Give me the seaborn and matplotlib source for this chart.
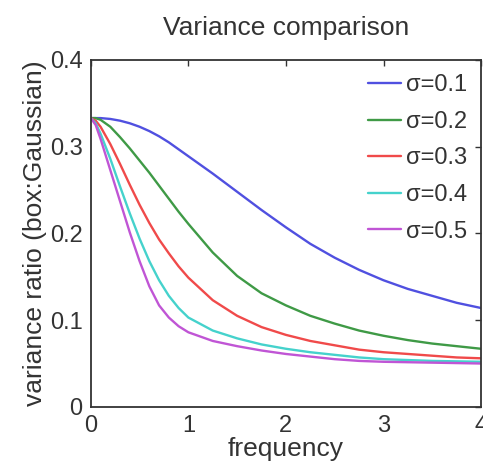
import pandas as pd
import matplotlib.pyplot as plt
import seaborn as sns
import numpy as np

# values
freq = [0.0, 0.05, 0.1, 0.2, 0.3, 0.4, 0.5, 0.6, 0.7, 0.8, 0.9, 1.0,
        1.25, 1.5, 1.75, 2.0, 2.25, 2.5, 2.75, 3.0, 3.25, 3.5, 3.75, 4.0]

ratio_s01 = [0.333, 0.333, 0.333, 0.332, 0.330, 0.327, 0.323, 0.318, 0.312, 0.305, 0.297, 0.289,
             0.269, 0.248, 0.227, 0.207, 0.188, 0.172, 0.158, 0.146, 0.136, 0.128, 0.120, 0.114]
ratio_s02 = [0.333, 0.333, 0.331, 0.323, 0.311, 0.298, 0.284, 0.270, 0.255, 0.240, 0.225, 0.211,
             0.178, 0.151, 0.131, 0.117, 0.105, 0.096, 0.088, 0.082, 0.077, 0.073, 0.070, 0.067]
ratio_s03 = [0.333, 0.330, 0.323, 0.303, 0.280, 0.256, 0.233, 0.212, 0.193, 0.177, 0.162, 0.149,
             0.123, 0.105, 0.092, 0.083, 0.076, 0.071, 0.066, 0.063, 0.061, 0.059, 0.057, 0.056]
ratio_s04 = [0.333, 0.327, 0.315, 0.286, 0.254, 0.223, 0.194, 0.168, 0.146, 0.128, 0.114, 0.103,
             0.088, 0.079, 0.072, 0.067, 0.063, 0.060, 0.057, 0.055, 0.054, 0.053, 0.0525, 0.052]
ratio_s05 = [0.333, 0.325, 0.309, 0.273, 0.237, 0.201, 0.168, 0.139, 0.117, 0.103, 0.093, 0.086,
             0.076, 0.070, 0.065, 0.061, 0.058, 0.055, 0.053, 0.052, 0.0515, 0.051, 0.0505, 0.050]

labels = ["σ=0.1", "σ=0.2", "σ=0.3", "σ=0.4", "σ=0.5"]
colors = ["#5050e0", "#3f9a46", "#f04a4a", "#45d2cc", "#c055d5"]

series = [ratio_s01, ratio_s02, ratio_s03, ratio_s04, ratio_s05]
frames = []
for lab, vals in zip(labels, series):
    frames.append(pd.DataFrame({"frequency": freq, "ratio": vals, "sigma": lab}))
df = pd.concat(frames, ignore_index=True)

sns.set_theme(style="white")
plt.rcParams['font.family'] = ['Liberation Sans', 'DejaVu Sans']

fig = plt.figure(figsize=(4.83, 4.65), dpi=100)
ax = fig.add_axes([0.188, 0.125, 0.808, 0.746])

sns.lineplot(data=df, x="frequency", y="ratio", hue="sigma", palette=colors,
             linewidth=1.7, ax=ax)

ax.set_xlim(0, 4)
ax.set_ylim(0, 0.4)
ax.set_xticks([0, 1, 2, 3, 4])
ax.set_xticklabels(["0", "1", "2", "3", "4"])
ax.set_yticks([0, 0.1, 0.2, 0.3, 0.4])
ax.set_yticklabels(["0", "0.1", "0.2", "0.3", "0.4"])
ax.tick_params(direction='in', top=True, right=True, length=4, width=1,
               labelsize=17, colors='#333333')
ax.tick_params(axis='x', pad=6)
ax.tick_params(axis='y', pad=6)

for sp in ax.spines.values():
    sp.set_color('#333333')
    sp.set_linewidth(1.3)

ax.set_title("Variance comparison", fontsize=19, pad=18, color='#333333')
ax.set_xlabel("frequency", fontsize=19, labelpad=0, color='#333333')
ax.set_ylabel("variance ratio (box:Gaussian)", fontsize=19, labelpad=2, color='#333333')

leg = ax.legend(loc='upper right', frameon=False, fontsize=17, handlelength=1.4,
                handletextpad=0.2, labelspacing=0.62, borderaxespad=0.2)
for t in leg.get_texts():
    t.set_color('#333333')

fig.savefig("out.png", dpi=100)
